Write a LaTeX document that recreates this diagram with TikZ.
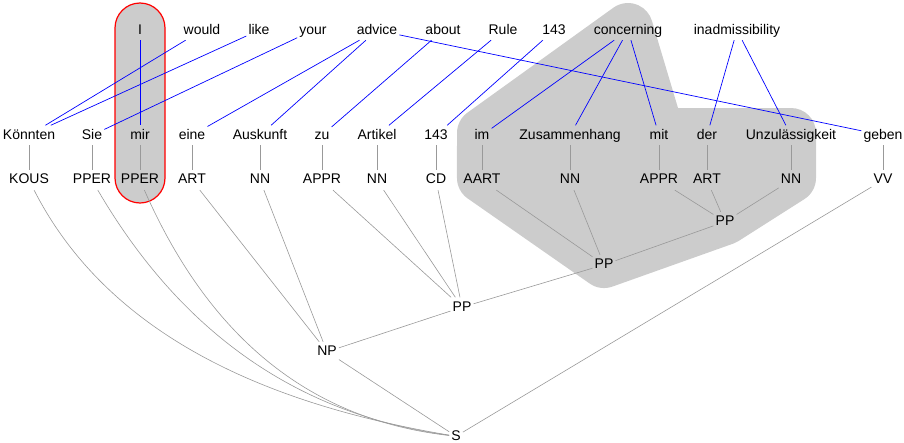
\documentclass[tikz,border=0pt]{standalone}
\usepackage{fontspec}
\setmainfont{Liberation Sans}
\usetikzlibrary{positioning}

\begin{document}
\begin{tikzpicture}[
  x=1pt, y=1pt,
  node distance=25pt,
  word/.style={font=\fontsize{14}{16}\selectfont, text height=10.5pt, text depth=3pt,
               inner xsep=2pt, inner ysep=3pt, anchor=base},
  link/.style={blue, line width=0.7pt},
  tree/.style={black!40, line width=0.6pt},
  hull/.style={fill=black!20},
  focus/.style={fill=black!20, draw=red, line width=1.2pt, rounded corners=25pt}
]
  \useasboundingbox (0,0) rectangle (904,-442);

  % shaded groups
  \fill[hull] (457,-133) arc[start angle=180, end angle=125.7, radius=25pt]
    -- (613.4,-7.7) arc[start angle=125.7, end angle=16.4, radius=25pt]
    -- (678,-108) -- (791,-108) arc[start angle=90, end angle=0, radius=25pt]
    -- (816,-178) arc[start angle=0, end angle=-57.5, radius=25pt]
    -- (738.4,-241.1) arc[start angle=-57.5, end angle=-70.4, radius=25pt]
    -- (612.4,-286.6) arc[start angle=-70.4, end angle=-125.1, radius=25pt]
    -- (467.6,-198.4) arc[start angle=-125.1, end angle=-180, radius=25pt]
    -- cycle;
  \draw[focus] (115,-3) rectangle (165,-203);

  % English sentence
  \node[word] (eI) at (140,-34) {I};
  \node[word] (eWould) at (202,-34) {would};
  \node[word] (eLike) at (259,-34) {like};
  \node[word] (eYour) at (313,-34) {your};
  \node[word] (eAdvice) at (377,-34) {advice};
  \node[word] (eAbout) at (443,-34) {about};
  \node[word] (eRule) at (503,-34) {Rule};
  \node[word] (eNum) at (554,-34) {143};
  \node[word] (eConcerning) at (628,-34) {concerning};
  \node[word] (eInadm) at (737,-34) {inadmissibility};

  % German sentence
  \node[word] (gKoennten) at (29,-139) {Könnten};
  \node[word] (gSie) at (92,-139) {Sie};
  \node[word] (gMir) at (140,-139) {mir};
  \node[word] (gEine) at (192,-139) {eine};
  \node[word] (gAuskunft) at (260,-139) {Auskunft};
  \node[word] (gZu) at (322,-139) {zu};
  \node[word] (gArtikel) at (377,-139) {Artikel};
  \node[word] (gNum) at (436,-139) {143};
  \node[word] (gIm) at (482,-139) {im};
  \node[word] (gZusammenhang) at (570,-139) {Zusammenhang};
  \node[word] (gMit) at (659,-139) {mit};
  \node[word] (gDer) at (707,-139) {der};
  \node[word] (gUnzul) at (791,-139) {Unzulässigkeit};
  \node[word] (gGeben) at (883,-139) {geben};

  % part-of-speech tags
  \node[word, below=of gKoennten] (tKoennten) {KOUS};
  \node[word, below=of gSie] (tSie) {PPER};
  \node[word, below=of gMir] (tMir) {PPER};
  \node[word, below=of gEine] (tEine) {ART};
  \node[word, below=of gAuskunft] (tAuskunft) {NN};
  \node[word, below=of gZu] (tZu) {APPR};
  \node[word, below=of gArtikel] (tArtikel) {NN};
  \node[word, below=of gNum] (tNum) {CD};
  \node[word, below=of gIm] (tIm) {AART};
  \node[word, below=of gZusammenhang] (tZusammenhang) {NN};
  \node[word, below=of gMit] (tMit) {APPR};
  \node[word, below=of gDer] (tDer) {ART};
  \node[word, below=of gUnzul] (tUnzul) {NN};
  \node[word, below=of gGeben] (tGeben) {VV};

  % phrases
  \node[word] (pp3) at (725,-225.5) {PP};
  \node[word] (pp2) at (604,-268.5) {PP};
  \node[word] (pp1) at (462,-311) {PP};
  \node[word] (np) at (327,-355.5) {NP};
  \node[word] (s) at (456,-440) {S};

  % word alignment
  \draw[link] (eI) -- (gMir);
  \draw[link] (eWould) -- (gKoennten);
  \draw[link] (eLike) -- (gKoennten);
  \draw[link] (eYour) -- (gSie);
  \draw[link] (eAdvice) -- (gEine);
  \draw[link] (eAdvice) -- (gAuskunft);
  \draw[link] (eAdvice) -- (gGeben);
  \draw[link] (eAbout) -- (gZu);
  \draw[link] (eRule) -- (gArtikel);
  \draw[link] (eNum) -- (gNum);
  \draw[link] (eConcerning) -- (gIm);
  \draw[link] (eConcerning) -- (gZusammenhang);
  \draw[link] (eConcerning) -- (gMit);
  \draw[link] (eInadm) -- (gDer);
  \draw[link] (eInadm) -- (gUnzul);

  % words to tags
  \draw[tree] (gKoennten) -- (tKoennten);
  \draw[tree] (gSie) -- (tSie);
  \draw[tree] (gMir) -- (tMir);
  \draw[tree] (gEine) -- (tEine);
  \draw[tree] (gAuskunft) -- (tAuskunft);
  \draw[tree] (gZu) -- (tZu);
  \draw[tree] (gArtikel) -- (tArtikel);
  \draw[tree] (gNum) -- (tNum);
  \draw[tree] (gIm) -- (tIm);
  \draw[tree] (gZusammenhang) -- (tZusammenhang);
  \draw[tree] (gMit) -- (tMit);
  \draw[tree] (gDer) -- (tDer);
  \draw[tree] (gUnzul) -- (tUnzul);
  \draw[tree] (gGeben) -- (tGeben);

  % syntax tree
  \draw[tree] (tMit) -- (pp3);
  \draw[tree] (tDer) -- (pp3);
  \draw[tree] (tUnzul) -- (pp3);
  \draw[tree] (tIm) -- (pp2);
  \draw[tree] (tZusammenhang) -- (pp2);
  \draw[tree] (pp3) -- (pp2);
  \draw[tree] (tZu) -- (pp1);
  \draw[tree] (tArtikel) -- (pp1);
  \draw[tree] (tNum) -- (pp1);
  \draw[tree] (pp2) -- (pp1);
  \draw[tree] (tEine) -- (np);
  \draw[tree] (tAuskunft) -- (np);
  \draw[tree] (pp1) -- (np);
  \draw[tree] (np) -- (s);
  \draw[tree] (tGeben) -- (s);
  \draw[tree] (tKoennten) .. controls +(71,-139) and +(-218,36.5) .. (s);
  \draw[tree] (tSie) .. controls +(90,-154) and +(-157,21.5) .. (s);
  \draw[tree] (tMir) .. controls +(70,-159) and +(-145,16.5) .. (s);
\end{tikzpicture}
\end{document}
